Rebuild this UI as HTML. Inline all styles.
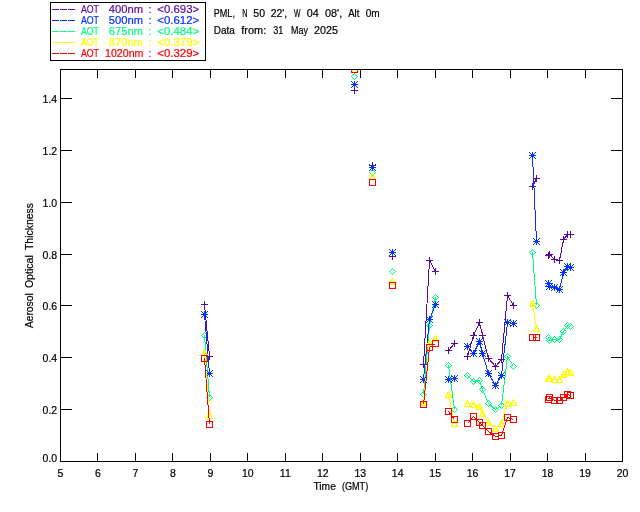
<!DOCTYPE html>
<html lang="en"><head><meta charset="utf-8"><title>Aerosol Optical Thickness - PML</title>
<style>html,body{margin:0;padding:0;background:#fff}body{width:640px;height:512px;overflow:hidden}svg{display:block}text{font-family:"Liberation Sans",sans-serif;font-size:10.5px;stroke-width:.2px}</style></head><body>
<svg width="640" height="512" viewBox="0 0 640 512">
<rect width="640" height="512" fill="#fff"/>
<defs><clipPath id="c"><rect x="60.5" y="69.5" width="562.0" height="392.0"/></clipPath></defs>
<g clip-path="url(#c)" fill="none" stroke-width="1" shape-rendering="crispEdges">
<path stroke="#00ff7f" d="M204.5 335.5L209.5 397.5M354.5 76.5M372.5 172.5M392.5 271.5M423.5 394.5L429.5 325.5L435.5 297.5M448.5 365.5L454.5 409.5M467.5 375.5L473.5 381.5L479.5 380.5L482.5 389.5L488.5 403.5L495.5 409.5L501.5 405.5L507.5 356.5L513.5 366.5M532.5 252.5L536.5 305.5M548.5 337.5L549.5 340.5L554.5 339.5L559.5 339.5L563.5 331.5L567.5 325.5L570.5 326.5"/>
<path stroke="#00ff7f" stroke-linejoin="bevel" stroke-linecap="square" d="M201.5 335.5L204.5 332.5L207.5 335.5L204.5 338.5ZM206.5 397.5L209.5 394.5L212.5 397.5L209.5 400.5ZM351.5 76.5L354.5 73.5L357.5 76.5L354.5 79.5ZM369.5 172.5L372.5 169.5L375.5 172.5L372.5 175.5ZM389.5 271.5L392.5 268.5L395.5 271.5L392.5 274.5ZM420.5 394.5L423.5 391.5L426.5 394.5L423.5 397.5ZM426.5 325.5L429.5 322.5L432.5 325.5L429.5 328.5ZM432.5 297.5L435.5 294.5L438.5 297.5L435.5 300.5ZM445.5 365.5L448.5 362.5L451.5 365.5L448.5 368.5ZM451.5 409.5L454.5 406.5L457.5 409.5L454.5 412.5ZM464.5 375.5L467.5 372.5L470.5 375.5L467.5 378.5ZM470.5 381.5L473.5 378.5L476.5 381.5L473.5 384.5ZM476.5 380.5L479.5 377.5L482.5 380.5L479.5 383.5ZM479.5 389.5L482.5 386.5L485.5 389.5L482.5 392.5ZM485.5 403.5L488.5 400.5L491.5 403.5L488.5 406.5ZM492.5 409.5L495.5 406.5L498.5 409.5L495.5 412.5ZM498.5 405.5L501.5 402.5L504.5 405.5L501.5 408.5ZM504.5 356.5L507.5 353.5L510.5 356.5L507.5 359.5ZM510.5 366.5L513.5 363.5L516.5 366.5L513.5 369.5ZM529.5 252.5L532.5 249.5L535.5 252.5L532.5 255.5ZM533.5 305.5L536.5 302.5L539.5 305.5L536.5 308.5ZM545.5 337.5L548.5 334.5L551.5 337.5L548.5 340.5ZM546.5 340.5L549.5 337.5L552.5 340.5L549.5 343.5ZM551.5 339.5L554.5 336.5L557.5 339.5L554.5 342.5ZM556.5 339.5L559.5 336.5L562.5 339.5L559.5 342.5ZM560.5 331.5L563.5 328.5L566.5 331.5L563.5 334.5ZM564.5 325.5L567.5 322.5L570.5 325.5L567.5 328.5ZM567.5 326.5L570.5 323.5L573.5 326.5L570.5 329.5Z"/>
<path stroke="#5a0a9a" d="M204.5 304.5L209.5 356.5M354.5 90.5M372.5 165.5M392.5 256.5M423.5 364.5L429.5 260.5L435.5 271.5M448.5 350.5L454.5 343.5M467.5 356.5L473.5 335.5L479.5 322.5L482.5 335.5L488.5 358.5L495.5 366.5L501.5 359.5L507.5 295.5L513.5 305.5M532.5 186.5L536.5 178.5M548.5 255.5L549.5 254.5L554.5 259.5L559.5 260.5L563.5 239.5L567.5 234.5L570.5 234.5"/>
<path stroke="#5a0a9a" stroke-linejoin="bevel" stroke-linecap="square" d="M201.5 304.5H207.5M204.5 301.5V307.5M206.5 356.5H212.5M209.5 353.5V359.5M351.5 90.5H357.5M354.5 87.5V93.5M369.5 165.5H375.5M372.5 162.5V168.5M389.5 256.5H395.5M392.5 253.5V259.5M420.5 364.5H426.5M423.5 361.5V367.5M426.5 260.5H432.5M429.5 257.5V263.5M432.5 271.5H438.5M435.5 268.5V274.5M445.5 350.5H451.5M448.5 347.5V353.5M451.5 343.5H457.5M454.5 340.5V346.5M464.5 356.5H470.5M467.5 353.5V359.5M470.5 335.5H476.5M473.5 332.5V338.5M476.5 322.5H482.5M479.5 319.5V325.5M479.5 335.5H485.5M482.5 332.5V338.5M485.5 358.5H491.5M488.5 355.5V361.5M492.5 366.5H498.5M495.5 363.5V369.5M498.5 359.5H504.5M501.5 356.5V362.5M504.5 295.5H510.5M507.5 292.5V298.5M510.5 305.5H516.5M513.5 302.5V308.5M529.5 186.5H535.5M532.5 183.5V189.5M533.5 178.5H539.5M536.5 175.5V181.5M545.5 255.5H551.5M548.5 252.5V258.5M546.5 254.5H552.5M549.5 251.5V257.5M551.5 259.5H557.5M554.5 256.5V262.5M556.5 260.5H562.5M559.5 257.5V263.5M560.5 239.5H566.5M563.5 236.5V242.5M564.5 234.5H570.5M567.5 231.5V237.5M567.5 234.5H573.5M570.5 231.5V237.5"/>
<path stroke="#0433ff" d="M204.5 314.5L209.5 373.5M354.5 84.5M372.5 167.5M392.5 252.5M423.5 379.5L429.5 319.5L435.5 304.5M448.5 379.5L454.5 378.5M467.5 346.5L473.5 353.5L479.5 341.5L482.5 353.5L488.5 373.5L495.5 385.5L501.5 375.5L507.5 322.5L513.5 323.5M532.5 155.5L536.5 241.5M548.5 283.5L549.5 286.5L554.5 287.5L559.5 289.5L563.5 272.5L567.5 266.5L570.5 267.5"/>
<path stroke="#0433ff" stroke-linejoin="bevel" stroke-linecap="square" d="M201.5 314.5H207.5M204.5 311.5V317.5M201.5 311.5L207.5 317.5M201.5 317.5L207.5 311.5M206.5 373.5H212.5M209.5 370.5V376.5M206.5 370.5L212.5 376.5M206.5 376.5L212.5 370.5M351.5 84.5H357.5M354.5 81.5V87.5M351.5 81.5L357.5 87.5M351.5 87.5L357.5 81.5M369.5 167.5H375.5M372.5 164.5V170.5M369.5 164.5L375.5 170.5M369.5 170.5L375.5 164.5M389.5 252.5H395.5M392.5 249.5V255.5M389.5 249.5L395.5 255.5M389.5 255.5L395.5 249.5M420.5 379.5H426.5M423.5 376.5V382.5M420.5 376.5L426.5 382.5M420.5 382.5L426.5 376.5M426.5 319.5H432.5M429.5 316.5V322.5M426.5 316.5L432.5 322.5M426.5 322.5L432.5 316.5M432.5 304.5H438.5M435.5 301.5V307.5M432.5 301.5L438.5 307.5M432.5 307.5L438.5 301.5M445.5 379.5H451.5M448.5 376.5V382.5M445.5 376.5L451.5 382.5M445.5 382.5L451.5 376.5M451.5 378.5H457.5M454.5 375.5V381.5M451.5 375.5L457.5 381.5M451.5 381.5L457.5 375.5M464.5 346.5H470.5M467.5 343.5V349.5M464.5 343.5L470.5 349.5M464.5 349.5L470.5 343.5M470.5 353.5H476.5M473.5 350.5V356.5M470.5 350.5L476.5 356.5M470.5 356.5L476.5 350.5M476.5 341.5H482.5M479.5 338.5V344.5M476.5 338.5L482.5 344.5M476.5 344.5L482.5 338.5M479.5 353.5H485.5M482.5 350.5V356.5M479.5 350.5L485.5 356.5M479.5 356.5L485.5 350.5M485.5 373.5H491.5M488.5 370.5V376.5M485.5 370.5L491.5 376.5M485.5 376.5L491.5 370.5M492.5 385.5H498.5M495.5 382.5V388.5M492.5 382.5L498.5 388.5M492.5 388.5L498.5 382.5M498.5 375.5H504.5M501.5 372.5V378.5M498.5 372.5L504.5 378.5M498.5 378.5L504.5 372.5M504.5 322.5H510.5M507.5 319.5V325.5M504.5 319.5L510.5 325.5M504.5 325.5L510.5 319.5M510.5 323.5H516.5M513.5 320.5V326.5M510.5 320.5L516.5 326.5M510.5 326.5L516.5 320.5M529.5 155.5H535.5M532.5 152.5V158.5M529.5 152.5L535.5 158.5M529.5 158.5L535.5 152.5M533.5 241.5H539.5M536.5 238.5V244.5M533.5 238.5L539.5 244.5M533.5 244.5L539.5 238.5M545.5 283.5H551.5M548.5 280.5V286.5M545.5 280.5L551.5 286.5M545.5 286.5L551.5 280.5M546.5 286.5H552.5M549.5 283.5V289.5M546.5 283.5L552.5 289.5M546.5 289.5L552.5 283.5M551.5 287.5H557.5M554.5 284.5V290.5M551.5 284.5L557.5 290.5M551.5 290.5L557.5 284.5M556.5 289.5H562.5M559.5 286.5V292.5M556.5 286.5L562.5 292.5M556.5 292.5L562.5 286.5M560.5 272.5H566.5M563.5 269.5V275.5M560.5 269.5L566.5 275.5M560.5 275.5L566.5 269.5M564.5 266.5H570.5M567.5 263.5V269.5M564.5 263.5L570.5 269.5M564.5 269.5L570.5 263.5M567.5 267.5H573.5M570.5 264.5V270.5M567.5 264.5L573.5 270.5M567.5 270.5L573.5 264.5"/>
<path stroke="#ffff00" d="M204.5 352.5L209.5 415.5M354.5 69.5M372.5 176.5M392.5 281.5M423.5 402.5L429.5 343.5L435.5 338.5M448.5 394.5L454.5 423.5M467.5 403.5L473.5 404.5L479.5 406.5L482.5 413.5L488.5 422.5L495.5 428.5L501.5 423.5L507.5 403.5L513.5 402.5M532.5 303.5L536.5 328.5M548.5 378.5L549.5 378.5L554.5 379.5L559.5 379.5L563.5 374.5L567.5 371.5L570.5 372.5"/>
<path stroke="#ffff00" stroke-linejoin="bevel" stroke-linecap="square" d="M201.5 355.5L204.5 349.5L207.5 355.5ZM206.5 418.5L209.5 412.5L212.5 418.5ZM351.5 72.5L354.5 66.5L357.5 72.5ZM369.5 179.5L372.5 173.5L375.5 179.5ZM389.5 284.5L392.5 278.5L395.5 284.5ZM420.5 405.5L423.5 399.5L426.5 405.5ZM426.5 346.5L429.5 340.5L432.5 346.5ZM432.5 341.5L435.5 335.5L438.5 341.5ZM445.5 397.5L448.5 391.5L451.5 397.5ZM451.5 426.5L454.5 420.5L457.5 426.5ZM464.5 406.5L467.5 400.5L470.5 406.5ZM470.5 407.5L473.5 401.5L476.5 407.5ZM476.5 409.5L479.5 403.5L482.5 409.5ZM479.5 416.5L482.5 410.5L485.5 416.5ZM485.5 425.5L488.5 419.5L491.5 425.5ZM492.5 431.5L495.5 425.5L498.5 431.5ZM498.5 426.5L501.5 420.5L504.5 426.5ZM504.5 406.5L507.5 400.5L510.5 406.5ZM510.5 405.5L513.5 399.5L516.5 405.5ZM529.5 306.5L532.5 300.5L535.5 306.5ZM533.5 331.5L536.5 325.5L539.5 331.5ZM545.5 381.5L548.5 375.5L551.5 381.5ZM546.5 381.5L549.5 375.5L552.5 381.5ZM551.5 382.5L554.5 376.5L557.5 382.5ZM556.5 382.5L559.5 376.5L562.5 382.5ZM560.5 377.5L563.5 371.5L566.5 377.5ZM564.5 374.5L567.5 368.5L570.5 374.5ZM567.5 375.5L570.5 369.5L573.5 375.5Z"/>
<path stroke="#ff0000" d="M204.5 358.5L209.5 424.5M354.5 69.5M372.5 182.5M392.5 285.5M423.5 404.5L429.5 347.5L435.5 343.5M448.5 411.5L454.5 419.5M467.5 423.5L473.5 416.5L479.5 422.5L482.5 425.5L488.5 431.5L495.5 436.5L501.5 435.5L507.5 417.5L513.5 419.5M532.5 337.5L536.5 337.5M548.5 399.5L549.5 397.5L554.5 400.5L559.5 400.5L563.5 397.5L567.5 394.5L570.5 395.5"/>
<path stroke="#ff0000" stroke-linejoin="bevel" stroke-linecap="square" d="M201.5 355.5H207.5V361.5H201.5ZM206.5 421.5H212.5V427.5H206.5ZM351.5 66.5H357.5V72.5H351.5ZM369.5 179.5H375.5V185.5H369.5ZM389.5 282.5H395.5V288.5H389.5ZM420.5 401.5H426.5V407.5H420.5ZM426.5 344.5H432.5V350.5H426.5ZM432.5 340.5H438.5V346.5H432.5ZM445.5 408.5H451.5V414.5H445.5ZM451.5 416.5H457.5V422.5H451.5ZM464.5 420.5H470.5V426.5H464.5ZM470.5 413.5H476.5V419.5H470.5ZM476.5 419.5H482.5V425.5H476.5ZM479.5 422.5H485.5V428.5H479.5ZM485.5 428.5H491.5V434.5H485.5ZM492.5 433.5H498.5V439.5H492.5ZM498.5 432.5H504.5V438.5H498.5ZM504.5 414.5H510.5V420.5H504.5ZM510.5 416.5H516.5V422.5H510.5ZM529.5 334.5H535.5V340.5H529.5ZM533.5 334.5H539.5V340.5H533.5ZM545.5 396.5H551.5V402.5H545.5ZM546.5 394.5H552.5V400.5H546.5ZM551.5 397.5H557.5V403.5H551.5ZM556.5 397.5H562.5V403.5H556.5ZM560.5 394.5H566.5V400.5H560.5ZM564.5 391.5H570.5V397.5H564.5ZM567.5 392.5H573.5V398.5H567.5Z"/>
</g>
<path d="M60.5 69.5H622.5V461.5H60.5ZM97.5 462.0v-9M97.5 69.0v9M135.5 462.0v-9M135.5 69.0v9M172.5 462.0v-9M172.5 69.0v9M210.5 462.0v-9M210.5 69.0v9M247.5 462.0v-9M247.5 69.0v9M285.5 462.0v-9M285.5 69.0v9M322.5 462.0v-9M322.5 69.0v9M360.5 462.0v-9M360.5 69.0v9M397.5 462.0v-9M397.5 69.0v9M435.5 462.0v-9M435.5 69.0v9M472.5 462.0v-9M472.5 69.0v9M510.5 462.0v-9M510.5 69.0v9M547.5 462.0v-9M547.5 69.0v9M585.5 462.0v-9M585.5 69.0v9M60.0 409.5h12M623.0 409.5h-12M60.0 357.5h12M623.0 357.5h-12M60.0 305.5h12M623.0 305.5h-12M60.0 254.5h12M623.0 254.5h-12M60.0 202.5h12M623.0 202.5h-12M60.0 150.5h12M623.0 150.5h-12M60.0 98.5h12M623.0 98.5h-12" fill="none" stroke="#000" stroke-width="1" shape-rendering="crispEdges"/>
<g text-anchor="middle" stroke="#000">
<text x="60.5" y="476.8">5</text>
<text x="97.97" y="476.8">6</text>
<text x="135.43" y="476.8">7</text>
<text x="172.9" y="476.8">8</text>
<text x="210.37" y="476.8">9</text>
<text x="247.83" y="476.8">10</text>
<text x="285.3" y="476.8">11</text>
<text x="322.77" y="476.8">12</text>
<text x="360.23" y="476.8">13</text>
<text x="397.7" y="476.8">14</text>
<text x="435.17" y="476.8">15</text>
<text x="472.63" y="476.8">16</text>
<text x="510.1" y="476.8">17</text>
<text x="547.57" y="476.8">18</text>
<text x="585.03" y="476.8">19</text>
<text x="622.5" y="476.8">20</text>
</g>
<g text-anchor="end" stroke="#000">
<text x="57.2" y="462">0.0</text>
<text x="57.2" y="413.75">0.2</text>
<text x="57.2" y="361.75">0.4</text>
<text x="57.2" y="309.75">0.6</text>
<text x="57.2" y="258.75">0.8</text>
<text x="57.2" y="206.75">1.0</text>
<text x="57.2" y="154.75">1.2</text>
<text x="57.2" y="102.75">1.4</text>
</g>
<text x="313.4" y="489.8" textLength="22.5" lengthAdjust="spacingAndGlyphs" stroke="#000">Time</text><text x="341.9" y="489.8" textLength="26.3" lengthAdjust="spacingAndGlyphs" stroke="#000">(GMT)</text>
<g transform="translate(33.3 328.1) rotate(-90)"><text x="0" y="0" textLength="34.8" lengthAdjust="spacingAndGlyphs" stroke="#000">Aerosol</text><text x="40" y="0" textLength="32.9" lengthAdjust="spacingAndGlyphs" stroke="#000">Optical</text><text x="78.1" y="0" textLength="46.9" lengthAdjust="spacingAndGlyphs" stroke="#000">Thickness</text></g>
<text x="213.8" y="16.9" textLength="21.1" lengthAdjust="spacingAndGlyphs" stroke="#000">PML,</text>
<text x="242.2" y="16.9" textLength="5.2" lengthAdjust="spacingAndGlyphs" stroke="#000">N</text>
<text x="253.3" y="16.9" textLength="11.7" lengthAdjust="spacingAndGlyphs" stroke="#000">50</text>
<text x="270.8" y="16.9" textLength="16.4" lengthAdjust="spacingAndGlyphs" stroke="#000">22',</text>
<text x="294.1" y="16.9" textLength="6.4" lengthAdjust="spacingAndGlyphs" stroke="#000">W</text>
<text x="306.8" y="16.9" textLength="12" lengthAdjust="spacingAndGlyphs" stroke="#000">04</text>
<text x="325" y="16.9" textLength="17.2" lengthAdjust="spacingAndGlyphs" stroke="#000">08',</text>
<text x="348.2" y="16.9" textLength="11.2" lengthAdjust="spacingAndGlyphs" stroke="#000">Alt</text>
<text x="365.7" y="16.9" textLength="14" lengthAdjust="spacingAndGlyphs" stroke="#000">0m</text>
<text x="213.8" y="34.1" textLength="21.1" lengthAdjust="spacingAndGlyphs" stroke="#000">Data</text>
<text x="241.2" y="34.1" textLength="25" lengthAdjust="spacingAndGlyphs" stroke="#000">from:</text>
<text x="273.2" y="34.1" textLength="10.1" lengthAdjust="spacingAndGlyphs" stroke="#000">31</text>
<text x="291" y="34.1" textLength="16.9" lengthAdjust="spacingAndGlyphs" stroke="#000">May</text>
<text x="314.1" y="34.1" textLength="23.9" lengthAdjust="spacingAndGlyphs" stroke="#000">2025</text>
<rect x="50.5" y="2.5" width="155" height="58" fill="none" stroke="#000" shape-rendering="crispEdges"/>
<path d="M52 9.5h7M60 9.5h7M68 9.5h7" stroke="#5a0a9a" fill="none" shape-rendering="crispEdges"/>
<text x="80.9" y="12.75" textLength="18.1" lengthAdjust="spacingAndGlyphs" fill="#5a0a9a" stroke="#5a0a9a">AOT</text>
<text x="108.8" y="12.75" textLength="34.2" lengthAdjust="spacingAndGlyphs" fill="#5a0a9a" stroke="#5a0a9a">400nm</text>
<text x="148.5" y="12.75" fill="#5a0a9a" stroke="#5a0a9a">:</text>
<text x="157.3" y="12.75" textLength="41.9" lengthAdjust="spacingAndGlyphs" fill="#5a0a9a" stroke="#5a0a9a">&lt;0.693&gt;</text>
<path d="M52 20.5h7M60 20.5h7M68 20.5h7" stroke="#0433ff" fill="none" shape-rendering="crispEdges"/>
<text x="80.9" y="23.75" textLength="18.1" lengthAdjust="spacingAndGlyphs" fill="#0433ff" stroke="#0433ff">AOT</text>
<text x="108.8" y="23.75" textLength="34.2" lengthAdjust="spacingAndGlyphs" fill="#0433ff" stroke="#0433ff">500nm</text>
<text x="148.5" y="23.75" fill="#0433ff" stroke="#0433ff">:</text>
<text x="157.3" y="23.75" textLength="41.9" lengthAdjust="spacingAndGlyphs" fill="#0433ff" stroke="#0433ff">&lt;0.612&gt;</text>
<path d="M52 31.5h7M60 31.5h7M68 31.5h7" stroke="#00ff7f" fill="none" shape-rendering="crispEdges"/>
<text x="80.9" y="34.75" textLength="18.1" lengthAdjust="spacingAndGlyphs" fill="#00ff7f" stroke="#00ff7f">AOT</text>
<text x="108.8" y="34.75" textLength="34.2" lengthAdjust="spacingAndGlyphs" fill="#00ff7f" stroke="#00ff7f">675nm</text>
<text x="148.5" y="34.75" fill="#00ff7f" stroke="#00ff7f">:</text>
<text x="157.3" y="34.75" textLength="41.9" lengthAdjust="spacingAndGlyphs" fill="#00ff7f" stroke="#00ff7f">&lt;0.484&gt;</text>
<path d="M52 42.5h7M60 42.5h7M68 42.5h7" stroke="#ffff00" fill="none" shape-rendering="crispEdges"/>
<text x="80.9" y="45.75" textLength="18.1" lengthAdjust="spacingAndGlyphs" fill="#ffff00" stroke="#ffff00">AOT</text>
<text x="108.8" y="45.75" textLength="34.2" lengthAdjust="spacingAndGlyphs" fill="#ffff00" stroke="#ffff00">870nm</text>
<text x="148.5" y="45.75" fill="#ffff00" stroke="#ffff00">:</text>
<text x="157.3" y="45.75" textLength="41.9" lengthAdjust="spacingAndGlyphs" fill="#ffff00" stroke="#ffff00">&lt;0.379&gt;</text>
<path d="M52 53.5h7M60 53.5h7M68 53.5h7" stroke="#ff0000" fill="none" shape-rendering="crispEdges"/>
<text x="80.9" y="56.75" textLength="18.1" lengthAdjust="spacingAndGlyphs" fill="#ff0000" stroke="#ff0000">AOT</text>
<text x="105" y="56.75" textLength="38.5" lengthAdjust="spacingAndGlyphs" fill="#ff0000" stroke="#ff0000">1020nm</text>
<text x="148.5" y="56.75" fill="#ff0000" stroke="#ff0000">:</text>
<text x="157.3" y="56.75" textLength="41.9" lengthAdjust="spacingAndGlyphs" fill="#ff0000" stroke="#ff0000">&lt;0.329&gt;</text>
</svg></body></html>
